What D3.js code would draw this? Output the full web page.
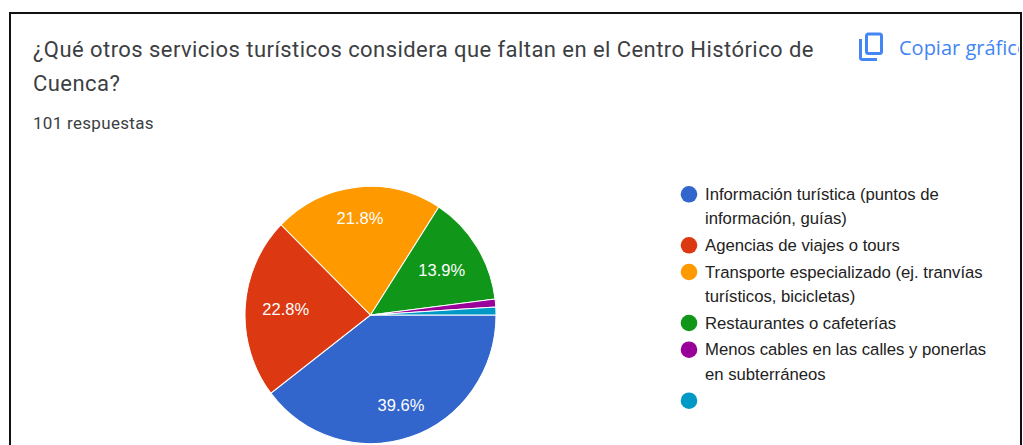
<!DOCTYPE html>
<html>
<head>
<meta charset="utf-8">
<script src="https://cdn.jsdelivr.net/npm/d3@7"></script>
<style>
  html, body { margin: 0; padding: 0; background: #fff; overflow: hidden; }
  svg { display: block; }
  text { font-family: Roboto, Arial, sans-serif; }
</style>
</head>
<body>
<svg width="1023" height="445"></svg>
<script>
// responses per option (101 in total)
const categories = [
  'Información turística (puntos de|información, guías)',
  'Agencias de viajes o tours',
  'Transporte especializado (ej. tranvías|turísticos, bicicletas)',
  'Restaurantes o cafeterías',
  'Menos cables en las calles y ponerlas|en subterráneos',
  ''
];
const values = [40, 23, 22, 14, 1, 1];
const colors = ['#3366cc', '#dc3912', '#ff9900', '#109618', '#990099', '#0099c6'];
const titleLines = [
  '¿Qué otros servicios turísticos considera que faltan en el Centro Histórico de',
  'Cuenca?'
];
const subtitle = '101 respuestas';

const svg = d3.select('svg');
// the screenshot is slightly stretched, so the pie is a little taller than wide
const cx = 370.5, cy = 315, radius = 125.5, stretchY = 1.025;
const labelRadius = [95, 85, 97, 84];

const clip = svg.append('clipPath').attr('id', 'card');
clip.append('rect').attr('x', 10).attr('y', 13).attr('width', 1009).attr('height', 432);

const g = svg.append('g')
  .attr('transform', `translate(${cx},${cy})`);

const pie = d3.pie().sort(null).startAngle(Math.PI / 2).endAngle(Math.PI * 2.5);
const arc = d3.arc().innerRadius(0).outerRadius(radius);
const total = d3.sum(values);

const slices = pie(values);

g.append('g')
  .attr('transform', `scale(1,${stretchY})`)
  .selectAll('path')
  .data(slices)
  .enter().append('path')
  .attr('d', arc)
  .attr('fill', (d, i) => colors[i])
  .attr('stroke', '#fff')
  .attr('stroke-width', 1);

g.selectAll('text')
  .data(slices.filter(d => d.value / total > 0.05))
  .enter().append('text')
  .attr('transform', (d, i) => {
    const r = labelRadius[i];
    return `translate(${d3.arc().innerRadius(r).outerRadius(r).centroid(d)})`;
  })
  .attr('text-anchor', 'middle')
  .attr('dy', '0.35em')
  .attr('fill', '#fff')
  .style('font-size', '16.5px')
  .style('font-family', '"Liberation Sans", Arial, sans-serif')
  .text(d => d3.format('.1%')(d.value / total));

// title
svg.selectAll('.title')
  .data(titleLines)
  .enter().append('text')
  .attr('class', 'title')
  .attr('x', 33)
  .attr('y', (d, i) => 57 + i * 34)
  .attr('fill', '#3c4043')
  .style('font-size', '22px')
  .style('letter-spacing', '0.44px')
  .text(d => d);

svg.append('text')
  .attr('x', 33)
  .attr('y', 129)
  .attr('fill', '#3c4043')
  .style('font-size', '17px')
  .style('letter-spacing', '0.3px')
  .text(subtitle);

// copy icon and link
const icon = svg.append('g')
  .attr('fill', 'none')
  .attr('stroke', '#4285f4')
  .attr('stroke-width', 3);
icon.append('rect')
  .attr('x', 866.5).attr('y', 34).attr('width', 15).attr('height', 19.5).attr('rx', 2);
icon.append('path')
  .attr('d', 'M860.5 39V57.5a2 2 0 0 0 2 2H877');

svg.append('text')
  .attr('x', 899)
  .attr('y', 55)
  .attr('clip-path', 'url(#card)')
  .attr('fill', '#4285f4')
  .style('font-size', '20px')
  .style('font-weight', 500)
  .style('font-family', '"Open Sans", Roboto, sans-serif')
  .text('Copiar gráfico');

// card frame, open at the bottom because the screenshot is cropped
svg.append('path')
  .attr('d', d3.line()([[10, 445], [10, 13], [1021, 13], [1021, 445]]))
  .attr('fill', 'none')
  .attr('stroke', '#111')
  .attr('stroke-width', 2);

// legend
let y = 194.3;
categories.forEach((c, i) => {
  const lines = c.split('|');
  svg.append('circle')
    .attr('cx', 689)
    .attr('cy', y)
    .attr('r', 8.3)
    .attr('fill', colors[i]);
  lines.forEach((line, j) => {
    svg.append('text')
      .attr('x', 705)
      .attr('y', y + 5.5 + j * 24.3)
      .attr('fill', '#222')
      .style('font-size', '16.7px')
      .style('font-family', '"Liberation Sans", Arial, sans-serif')
      .text(line);
  });
  y += lines.length * 24.3 + 2.4;
});
</script>
</body>
</html>
